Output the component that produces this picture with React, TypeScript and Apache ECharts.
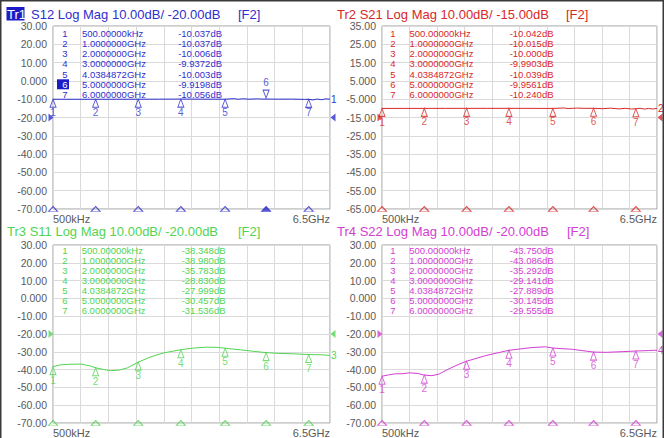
import React, { useEffect, useRef } from 'react';
import * as echarts from 'echarts';

// ---- data ----
const markerFreqs = [0.0005, 1, 2, 3, 4.0384872, 5, 6];
const markerFreqLabels = ['500.00000kHz', '1.0000000GHz', '2.0000000GHz', '3.0000000GHz', '4.0384872GHz', '5.0000000GHz', '6.0000000GHz'];

const s12MarkerDb = [-10.037, -10.037, -10.006, -9.9372, -10.003, -9.9198, -10.056];
const s21MarkerDb = [-10.042, -10.015, -10.0, -9.9903, -10.039, -9.9561, -10.24];
const s11MarkerDb = [-38.348, -38.98, -35.783, -28.83, -27.999, -30.457, -31.536];
const s22MarkerDb = [-43.75, -43.086, -35.292, -29.141, -27.889, -30.145, -29.555];

const s12Freq = [0.0005, 0.5, 1, 1.5, 2, 2.5, 3, 3.5, 4.038, 4.25, 4.35, 4.45, 4.6, 4.8, 4.9, 5, 5.3, 5.6, 5.9, 6.0, 6.1, 6.2, 6.3, 6.4, 6.5];
const s12Db = [-10.037, -10.03, -10.037, -10.02, -10.006, -9.98, -9.937, -9.97, -10.003, -9.7, -10.05, -9.75, -10.0, -9.8, -9.95, -9.92, -9.98, -9.95, -10.1, -10.056, -10.4, -9.9, -10.3, -9.8, -10.0];

const s21Freq = [0.0005, 0.5, 1, 1.5, 2, 2.5, 3, 3.5, 4.038, 4.3, 4.4, 4.6, 4.8, 5, 5.2, 5.4, 5.6, 5.75, 5.9, 6.0, 6.1, 6.2, 6.3, 6.4, 6.5];
const s21Db = [-10.042, -10.03, -10.015, -10.01, -10.0, -10.0, -9.99, -10.01, -10.039, -9.8, -10.1, -9.85, -10.0, -9.956, -10.2, -9.9, -10.3, -10.0, -10.35, -10.24, -9.95, -10.4, -10.05, -10.35, -10.0];

const s11Freq = [0.0005, 0.15, 0.4, 0.65, 0.85, 1.0, 1.2, 1.35, 1.55, 1.75, 2.0, 2.3, 2.6, 3.0, 3.3, 3.6, 3.85, 4.038, 4.4, 4.7, 5.0, 5.3, 5.6, 6.0, 6.3, 6.5];
const s11Db = [-38.35, -37.4, -37.0, -36.9, -37.8, -38.98, -40.0, -40.6, -40.3, -39.0, -35.78, -32.8, -30.6, -28.83, -27.9, -27.4, -27.5, -28.0, -28.9, -29.7, -30.46, -30.9, -31.1, -31.54, -31.7, -32.0];

const s22Freq = [0.0005, 0.15, 0.3, 0.5, 0.65, 0.85, 1.0, 1.18, 1.34, 1.58, 1.8, 2.0, 2.44, 3.0, 3.55, 3.86, 4.038, 4.5, 5.0, 5.3, 5.7, 6.0, 6.3, 6.5];
const s22Db = [-43.75, -43.0, -42.4, -42.3, -41.8, -42.2, -43.09, -43.4, -42.6, -39.6, -37.2, -35.29, -32.2, -29.14, -27.6, -27.2, -27.89, -28.6, -30.15, -30.3, -29.9, -29.56, -29.3, -29.1];

const xStartLabel = '500kHz';
const xEndLabel = '6.5GHz';

// ---- styles ----
const FONT = 'Liberation Sans';
const BLUE = '#2f2fcc';
const RED = '#d82828';
const GREEN = '#52d452';
const MAGENTA = '#d23ed2';
const LABEL_GRAY = '#5a5a5a';

const panels = [
  {
    name: 'Tr1', param: 'S12', ref: -20, min: -70, max: 30, color: BLUE,
    freq: s12Freq, db: s12Db, markers: s12MarkerDb, active: 5,
    grid: { left: 53, top: 26, width: 277, height: 183 },
    table: { numX: 65, freqX: 82, valX: 222, y0: 33.3, step: 10.2 },
    title: { x: 7, y: 14 }, f2X: 238,
  },
  {
    name: 'Tr2', param: 'S21', ref: -15, min: -65, max: 35, color: RED,
    freq: s21Freq, db: s21Db, markers: s21MarkerDb, active: -1,
    grid: { left: 382, top: 26, width: 275, height: 183 },
    table: { numX: 393, freqX: 409.5, valX: 553.5, y0: 33.3, step: 10.2 },
    title: { x: 337, y: 14 }, f2X: 566,
  },
  {
    name: 'Tr3', param: 'S11', ref: -20, min: -70, max: 30, color: GREEN,
    freq: s11Freq, db: s11Db, markers: s11MarkerDb, active: -1,
    grid: { left: 53, top: 245, width: 277, height: 181 },
    table: { numX: 65, freqX: 81.7, valX: 225.5, y0: 250.8, step: 10.0 },
    title: { x: 7, y: 231 }, f2X: 238,
  },
  {
    name: 'Tr4', param: 'S22', ref: -20, min: -70, max: 30, color: MAGENTA,
    freq: s22Freq, db: s22Db, markers: s22MarkerDb, active: -1,
    grid: { left: 382, top: 245, width: 275, height: 181 },
    table: { numX: 393, freqX: 409.3, valX: 553.7, y0: 250.8, step: 10.0 },
    title: { x: 337, y: 231 }, f2X: 567,
  },
];

const DOWN_TRI = 'path://M0,0 L10,0 L5,10 Z';
const RIGHT_TRI = 'path://M0,0 L10,5 L0,10 Z';
const LEFT_TRI = 'path://M10,0 L0,5 L10,10 Z';

function buildOption() {
  const grids: any[] = [];
  const xAxes: any[] = [];
  const yAxes: any[] = [];
  const series: any[] = [];
  const elements: any[] = [];

  panels.forEach((p, i) => {
    grids.push({ ...p.grid, show: true, borderColor: '#9c9c9c', borderWidth: 1, backgroundColor: '#ffffff', containLabel: false });
    xAxes.push({
      type: 'value', gridIndex: i, min: 0, max: 6.5, interval: 0.65,
      axisLine: { show: false }, axisTick: { show: false },
      splitLine: { show: true, lineStyle: { color: '#dadada', width: 1 } },
      axisLabel: {
        show: true, color: LABEL_GRAY, fontSize: 11, fontFamily: FONT, margin: 4,
        showMinLabel: true, showMaxLabel: true,
        alignMinLabel: 'left', alignMaxLabel: 'right',
        formatter: (v: number) => (Math.abs(v) < 1e-6 ? xStartLabel : Math.abs(v - 6.5) < 1e-6 ? xEndLabel : ''),
      },
    });
    yAxes.push({
      type: 'value', gridIndex: i, min: p.min, max: p.max, interval: 10,
      axisLine: { show: false }, axisTick: { show: false },
      splitLine: { show: true, lineStyle: { color: '#dadada', width: 1 } },
      axisLabel: {
        show: true, color: LABEL_GRAY, fontSize: 10.5, fontFamily: FONT, margin: 6,
        formatter: (v: number) => v.toPrecision(4),
      },
    });

    // trace
    series.push({
      type: 'line', xAxisIndex: i, yAxisIndex: i,
      data: p.freq.map((f, k) => [f, p.db[k]]),
      showSymbol: false, symbol: 'none', silent: true, z: 3,
      lineStyle: { color: p.color, width: 1 }, itemStyle: { color: p.color },
      endLabel: { show: true, formatter: String(i + 1), color: p.color, fontSize: 10, fontFamily: FONT, distance: 1 },
    });

    // markers on trace
    series.push({
      type: 'scatter', xAxisIndex: i, yAxisIndex: i, clip: false, silent: true, z: 4,
      symbol: 'triangle', symbolSize: [6, 8],
      itemStyle: { color: 'rgba(255,255,255,0)', borderColor: p.color, borderWidth: 1 },
      label: {
        show: true, position: 'bottom', distance: 0, color: p.color, fontSize: 10, fontFamily: FONT,
        formatter: (d: any) => String(d.dataIndex + 1),
      },
      data: markerFreqs.map((f, k) => {
        if (k === p.active) {
          return { value: [f, p.markers[k]], symbol: DOWN_TRI, symbolOffset: [0, -5], label: { position: 'top', distance: 2 } };
        }
        return { value: [f, p.markers[k]], symbolOffset: [0, 4] };
      }),
    });

    // marker indicators along the bottom edge
    series.push({
      type: 'scatter', xAxisIndex: i, yAxisIndex: i, clip: false, silent: true, z: 4,
      symbol: 'triangle', symbolSize: [9, 5],
      itemStyle: { color: 'rgba(255,255,255,0)', borderColor: p.color, borderWidth: 1 },
      data: markerFreqs.map((f, k) =>
        k === p.active ? { value: [f, p.min], itemStyle: { color: p.color } } : { value: [f, p.min] }
      ),
    });

    // reference level arrows
    series.push({
      type: 'scatter', xAxisIndex: i, yAxisIndex: i, clip: false, silent: true, z: 5,
      symbolSize: [5, 8], itemStyle: { color: p.color },
      data: [
        { value: [0, p.ref], symbol: RIGHT_TRI, symbolOffset: [-2, 0] },
        { value: [6.5, p.ref], symbol: LEFT_TRI, symbolOffset: [3, 0] },
      ],
    });

    // titles
    const scaleText = `${p.param} Log Mag 10.00dB/ ${p.ref.toFixed(2)}dB`;
    if (i === 0) {
      elements.push({ type: 'rect', shape: { x: p.title.x - 0.5, y: p.title.y - 7, width: 18, height: 13.5 }, style: { fill: '#1c1cc4' }, z: 10 });
      elements.push({ type: 'text', x: p.title.x, y: p.title.y, z: 11, style: { text: p.name, fill: '#ffffff', fontSize: 13, fontFamily: FONT, verticalAlign: 'middle', align: 'left' } });
      elements.push({ type: 'text', x: 31, y: p.title.y, z: 11, style: { text: scaleText, fill: p.color, fontSize: 13, fontFamily: FONT, verticalAlign: 'middle', align: 'left' } });
    } else {
      elements.push({ type: 'text', x: p.title.x, y: p.title.y, z: 11, style: { text: `${p.name} ${scaleText}`, fill: p.color, fontSize: 13, fontFamily: FONT, verticalAlign: 'middle', align: 'left' } });
    }
    elements.push({ type: 'text', x: p.f2X, y: p.title.y, z: 11, style: { text: '[F2]', fill: p.color, fontSize: 13, fontFamily: FONT, verticalAlign: 'middle', align: 'left' } });

    // marker table
    markerFreqs.forEach((_f, k) => {
      const y = p.table.y0 + k * p.table.step;
      const isActive = k === p.active;
      if (isActive) {
        elements.push({ type: 'rect', shape: { x: p.table.numX - 8, y: y - 5, width: 12, height: 10 }, style: { fill: '#1c1cc4' }, z: 10 });
      }
      elements.push({ type: 'text', x: p.table.numX, y, z: 11, style: { text: String(k + 1), fill: isActive ? '#ffffff' : p.color, fontSize: 9.5, fontFamily: FONT, align: 'center', verticalAlign: 'middle' } });
      elements.push({ type: 'text', x: p.table.freqX, y, z: 11, style: { text: markerFreqLabels[k], fill: p.color, fontSize: 9.5, fontFamily: FONT, align: 'left', verticalAlign: 'middle' } });
      elements.push({ type: 'text', x: p.table.valX, y, z: 11, style: { text: `${p.markers[k].toPrecision(5)}dB`, fill: p.color, fontSize: 9.5, fontFamily: FONT, align: 'right', verticalAlign: 'middle' } });
    });
  });

  // outer frame
  elements.push({ type: 'line', shape: { x1: 0, y1: 0.75, x2: 664, y2: 0.75 }, style: { stroke: '#3a3a3a', lineWidth: 1.5 }, z: 20 });
  elements.push({ type: 'line', shape: { x1: 0.75, y1: 0, x2: 0.75, y2: 438 }, style: { stroke: '#3a3a3a', lineWidth: 1.5 }, z: 20 });
  elements.push({ type: 'line', shape: { x1: 663.25, y1: 0, x2: 663.25, y2: 438 }, style: { stroke: '#3a3a3a', lineWidth: 1.5 }, z: 20 });

  return {
    animation: false,
    backgroundColor: '#ffffff',
    textStyle: { fontFamily: FONT },
    grid: grids,
    xAxis: xAxes,
    yAxis: yAxes,
    series,
    graphic: { elements },
  };
}

export default function App() {
  const ref = useRef<HTMLDivElement>(null);
  useEffect(() => {
    if (!ref.current) return;
    const chart = echarts.init(ref.current, undefined, { renderer: 'svg' });
    chart.setOption(buildOption() as any);
    return () => chart.dispose();
  }, []);
  return <div ref={ref} style={{ position: 'absolute', left: 0, top: 0, width: 664, height: 438 }} />;
}
